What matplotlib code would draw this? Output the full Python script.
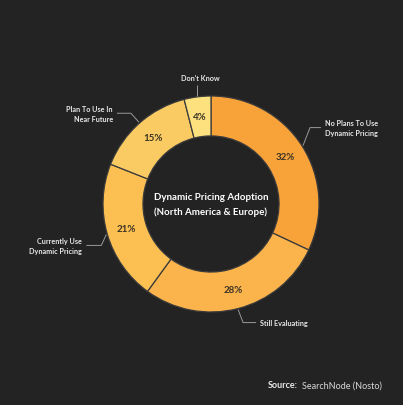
import numpy as np
import matplotlib.pyplot as plt

labels = ['No Plans To Use\nDynamic Pricing', 'Still Evaluating',
          'Currently Use\nDynamic Pricing', 'Plan To Use In\nNear Future', "Don't Know"]
shares = [32, 28, 21, 15, 4]
colors = ['#F8A23A', '#FBB44B', '#FCC052', '#FBCB63', '#FDE17E']

W, H = 403, 406
bg = '#232323'
fig = plt.figure(figsize=(W / 100, H / 100), dpi=100, facecolor=bg)
ax = fig.add_axes([0, 0, 1, 1])
ax.set_xlim(0, W)
ax.set_ylim(0, H)
ax.set_aspect('equal')
ax.axis('off')

cx, cy, R = 211, H - 205, 108
ring = 0.37
wedges, _ = ax.pie(shares, colors=colors, startangle=90, counterclock=False,
                   center=(cx, cy), radius=R, frame=True,
                   wedgeprops=dict(width=R * ring, edgecolor='#3b3b3b', linewidth=0.9))
ax.set_xlim(0, W)
ax.set_ylim(0, H)
ax.axis('off')

font = 'Lato'
for w, s in zip(wedges, shares):
    a = np.deg2rad((w.theta1 + w.theta2) / 2)
    r = R * (1 - ring / 2)
    ax.text(cx + r * np.cos(a), cy + r * np.sin(a), f'{s}%', ha='center', va='center',
            fontsize=7, fontweight='bold', color='#3a3226', family=font)

# leader layout: (elbow dx, elbow dy, horizontal length, side)
leaders = [(7, 18, 11, 'right'), (5, -13, 13, 'right'), (-5, -11, -15, 'left'),
           (-8, 9, -14, 'left'), (0, 11, 0, 'up')]
for w, lab, (ex, ey, hl, side) in zip(wedges, labels, leaders):
    a = np.deg2rad((w.theta1 + w.theta2) / 2)
    x0, y0 = cx + (R + 1) * np.cos(a), cy + (R + 1) * np.sin(a)
    x1, y1 = x0 + ex, y0 + ey
    x2 = x1 + hl
    ax.plot([x0, x1, x2], [y0, y1, y1], color='#9a9a9a', lw=0.7, solid_capstyle='butt')
    if side == 'right':
        ax.text(x2 + 4, y1, lab, ha='left', va='center', fontsize=5.2, fontweight='bold',
                color='#e8e8e8', family=font, linespacing=1.5)
    elif side == 'left':
        ax.text(x2 - 4, y1, lab, ha='right', va='center', fontsize=5.2, fontweight='bold',
                color='#e8e8e8', family=font, linespacing=1.5, multialignment='right')
    else:
        ax.text(x1 + 3, y1 + 7, lab, ha='center', va='center', fontsize=5.2, fontweight='bold',
                color='#e8e8e8', family=font)

ax.text(cx, cy, 'Dynamic Pricing Adoption\n(North America & Europe)', ha='center', va='center',
        fontsize=7, fontweight='bold', color='white', family=font, linespacing=1.6)

fig.text(268 / W, 1 - 386 / H, 'Source:', ha='left', va='center', fontsize=6.5,
         fontweight='bold', color='#e8e8e8', family=font)
fig.text(302 / W, 1 - 386 / H, 'SearchNode (Nosto)', ha='left', va='center', fontsize=6.5,
         color='#d8d8d8', family=font)

fig.savefig('out.png', dpi=100, facecolor=bg)
